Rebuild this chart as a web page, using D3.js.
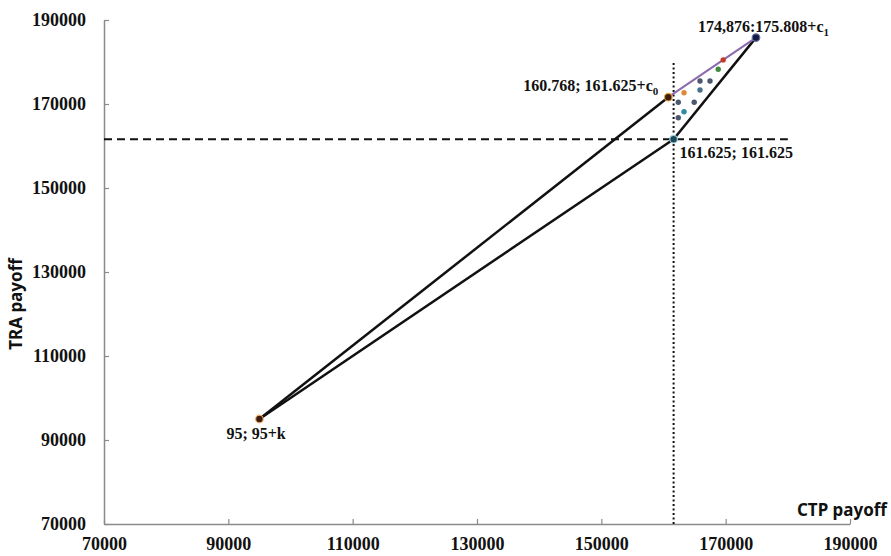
<!DOCTYPE html>
<html>
<head>
<meta charset="utf-8">
<script src="https://cdn.jsdelivr.net/npm/d3@7"></script>
<style>
  body { margin: 0; background: #fff; }
  .tick-label { font-family: "Liberation Serif", "Times New Roman", serif; font-weight: bold; font-size: 18px; fill: #111; }
  .note { font-family: "Liberation Serif", "Times New Roman", serif; font-weight: bold; font-size: 16px; fill: #111; }
  .axis-title { font-family: "Noto Sans", sans-serif; font-weight: bold; font-size: 17px; fill: #111; }
</style>
</head>
<body>
<svg id="chart" width="891" height="556"></svg>
<script>
// tick values
const xTicks = [70000, 90000, 110000, 130000, 150000, 170000, 190000];
const yTicks = [70000, 90000, 110000, 130000, 150000, 170000, 190000];

// main points: name, x, y
const pointNames = ["start", "c0", "eq", "c1"];
const pointX = [95000, 160768, 161625, 174876];
const pointY = [95000, 171625, 161625, 185808];
const pointLabels = ["95; 95+k", "160.768; 161.625+c", "161.625; 161.625", "174,876:175.808+c"];
const pointSubs = ["", "0", "", "1"];
const pointColors = ["#3a1c0c", "#3a1e0c", "#1d4a58", "#141a44"];

// segments between points (by index)
const blackSegments = [[0, 1], [0, 2], [2, 3]];
const purpleSegments = [[1, 3]];

// reference lines
const refX = 161625;
const refY = 161625;
const refEnd = 180000;

// scattered points inside the triangle
const dotX = [169600, 168800, 165870, 167480, 165870, 163300, 162380, 164940, 163300, 162380];
const dotY = [180500, 178260, 175480, 175480, 173330, 172690, 170400, 170400, 168170, 166740];
const dotColors = ["#c23a2a", "#3f8a3f", "#4b5870", "#4b5870", "#46708e", "#e0893a", "#4b5870", "#4b5870", "#2f8aa2", "#4b5870"];

const svg = d3.select("#chart");
const margin = {left: 104, top: 20, right: 41, bottom: 32};
const width = 891 - margin.left - margin.right;
const height = 556 - margin.top - margin.bottom;

const x = d3.scaleLinear().domain([70000, 190000]).range([margin.left, margin.left + width]);
const y = d3.scaleLinear().domain([70000, 190000]).range([margin.top + height, margin.top]);

// axes
const xAxis = svg.append("g")
    .attr("transform", `translate(0,${margin.top + height})`)
    .call(d3.axisBottom(x).tickValues(xTicks).tickSize(-5).tickSizeOuter(0).tickFormat(d3.format("d")).tickPadding(13));
const yAxis = svg.append("g")
    .attr("transform", `translate(${margin.left},0)`)
    .call(d3.axisLeft(y).tickValues(yTicks).tickSize(-5).tickSizeOuter(0).tickFormat(d3.format("d")).tickPadding(18));

[xAxis, yAxis].forEach(a => {
    a.select(".domain").attr("stroke", "#8a8a8a").attr("stroke-width", 1.5);
    a.selectAll(".tick line").attr("stroke", "#8a8a8a").attr("stroke-width", 1.2);
    a.selectAll(".tick text").attr("class", "tick-label").attr("font-size", null).attr("font-family", null).attr("fill", null);
});

// axis titles
svg.append("text")
    .attr("class", "axis-title")
    .attr("x", 887)
    .attr("y", 516)
    .attr("text-anchor", "end")
    .text("CTP payoff");

svg.append("text")
    .attr("class", "axis-title")
    .attr("transform", "translate(22,304) rotate(-90)")
    .attr("text-anchor", "middle")
    .text("TRA payoff");

// reference lines
svg.append("line")
    .attr("x1", x(70000)).attr("x2", x(refEnd))
    .attr("y1", y(refY)).attr("y2", y(refY))
    .attr("stroke", "#111").attr("stroke-width", 2)
    .attr("stroke-dasharray", "8,5");

svg.append("line")
    .attr("x1", x(refX)).attr("x2", x(refX))
    .attr("y1", y(70000)).attr("y2", y(refEnd))
    .attr("stroke", "#111").attr("stroke-width", 2)
    .attr("stroke-dasharray", "2,2.5");

// triangle edges
svg.selectAll(".edge")
    .data(blackSegments)
    .enter().append("line")
    .attr("class", "edge")
    .attr("x1", d => x(pointX[d[0]])).attr("y1", d => y(pointY[d[0]]))
    .attr("x2", d => x(pointX[d[1]])).attr("y2", d => y(pointY[d[1]]))
    .attr("stroke", "#111").attr("stroke-width", 2.5);

svg.selectAll(".purple")
    .data(purpleSegments)
    .enter().append("line")
    .attr("class", "purple")
    .attr("x1", d => x(pointX[d[0]])).attr("y1", d => y(pointY[d[0]]))
    .attr("x2", d => x(pointX[d[1]])).attr("y2", d => y(pointY[d[1]]))
    .attr("stroke", "#8b6aae").attr("stroke-width", 2);

// small dots
svg.selectAll(".dot")
    .data(dotX)
    .enter().append("circle")
    .attr("class", "dot")
    .attr("cx", d => x(d))
    .attr("cy", (d, i) => y(dotY[i]))
    .attr("r", 2.7)
    .attr("fill", (d, i) => dotColors[i]);

// main points
const halo = ["#f5b070", "#e8a040", "#9fd0dc", "#6a70a0"];
svg.selectAll(".pt")
    .data(pointX)
    .enter().append("circle")
    .attr("class", "pt")
    .attr("cx", d => x(d))
    .attr("cy", (d, i) => y(pointY[i]))
    .attr("r", 3.8)
    .attr("fill", (d, i) => pointColors[i])
    .attr("stroke", (d, i) => halo[i])
    .attr("stroke-width", 1.2);

// point labels
const labelOffsets = [[-33, 20, "start"], [-10, -6, "end"], [6, 19, "start"], [-58, -6, "start"]];
pointX.forEach((px, i) => {
    const t = svg.append("text")
        .attr("class", "note")
        .attr("x", x(px) + labelOffsets[i][0])
        .attr("y", y(pointY[i]) + labelOffsets[i][1])
        .attr("text-anchor", labelOffsets[i][2]);
    t.append("tspan").text(pointLabels[i]);
    if (pointSubs[i]) {
        t.append("tspan")
            .attr("font-size", "11px")
            .attr("dy", 4)
            .text(pointSubs[i]);
    }
});
</script>
</body>
</html>
